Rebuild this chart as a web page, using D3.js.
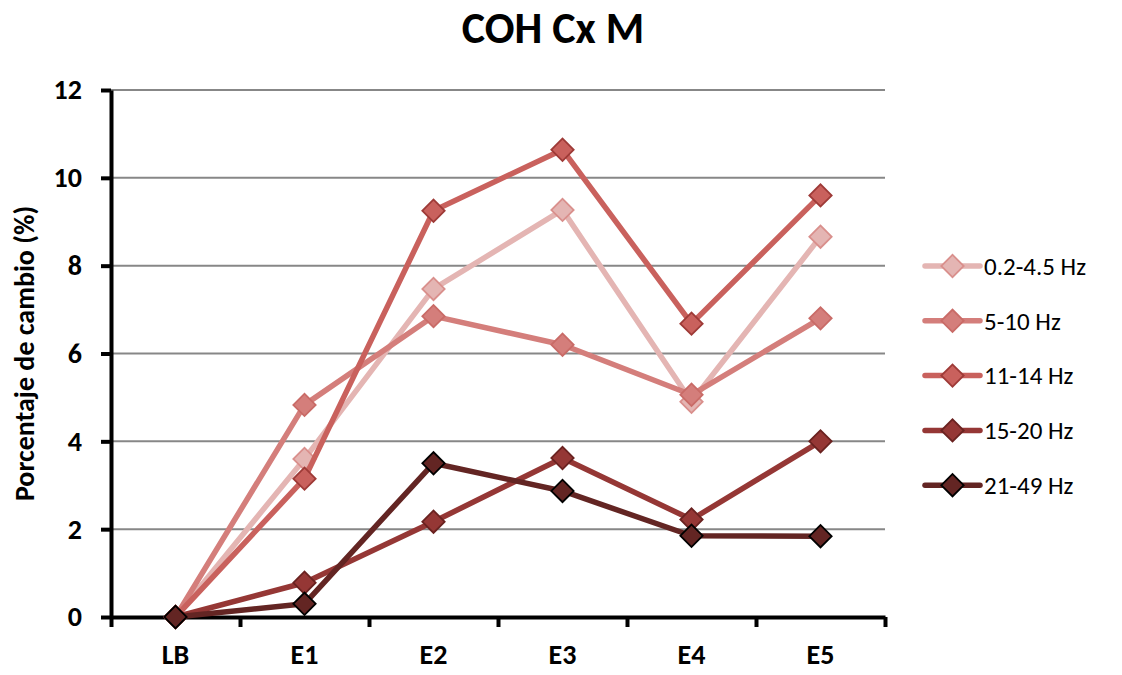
<!DOCTYPE html>
<html>
<head>
<meta charset="utf-8">
<script src="https://cdn.jsdelivr.net/npm/d3@7"></script>
<style>
  body { margin: 0; background: #fff; }
  svg { display: block; font-family: Carlito, Calibri, Lato, sans-serif; }
</style>
</head>
<body>
<div id="chart"></div>
<script>
// Data
const categories = ["LB", "E1", "E2", "E3", "E4", "E5"];
const seriesNames = ["0.2-4.5 Hz", "5-10 Hz", "11-14 Hz", "15-20 Hz", "21-49 Hz"];
const band1 = [0, 3.6, 7.47, 9.27, 4.9, 8.66];
const band2 = [0, 4.83, 6.85, 6.2, 5.06, 6.8];
const band3 = [0, 3.15, 9.25, 10.64, 6.68, 9.6];
const band4 = [0, 0.78, 2.17, 3.62, 2.22, 4.0];
const band5 = [0, 0.3, 3.5, 2.87, 1.85, 1.84];
const yTicks = [0, 2, 4, 6, 8, 10, 12];

const lineColors = ["#e4b5b3", "#d47e7b", "#c9615d", "#953735", "#632523"];
const markerStrokes = ["#d98f8c", "#c96b67", "#9e3a37", "#6a2220", "#000000"];

const series = seriesNames.map((name, i) => ({
    name: name,
    values: [band1, band2, band3, band4, band5][i],
    color: lineColors[i],
    stroke: markerStrokes[i]
}));

const width = 1122, height = 675;
const plot = { left: 111, right: 885, top: 90, bottom: 617 };

const svg = d3.select("#chart").append("svg")
    .attr("width", width)
    .attr("height", height);

const x = d3.scaleBand()
    .domain(categories)
    .range([plot.left, plot.right]);

const xEdge = d3.scaleLinear()
    .domain([0, categories.length])
    .range([plot.left, plot.right]);

const y = d3.scaleLinear()
    .domain([0, 12])
    .range([plot.bottom, plot.top]);

// gridlines
svg.append("g")
    .selectAll("line")
    .data(yTicks.filter(d => d > 0))
    .enter().append("line")
    .attr("x1", plot.left)
    .attr("x2", plot.right)
    .attr("y1", d => y(d))
    .attr("y2", d => y(d))
    .attr("stroke", "#878787")
    .attr("stroke-width", 2);

// y axis
const yAxis = svg.append("g")
    .attr("transform", "translate(" + plot.left + ",0)")
    .call(d3.axisLeft(y).tickValues(yTicks).tickSize(10).tickPadding(19).tickSizeOuter(0));
yAxis.select(".domain").attr("stroke", "#000").attr("stroke-width", 4);
yAxis.selectAll(".tick line").attr("stroke", "#000").attr("stroke-width", 4);
yAxis.selectAll("text")
    .attr("fill", "#000")
    .style("font-size", "28px")
    .style("font-weight", "bold")
    .style("font-family", "Carlito, Calibri, Lato, sans-serif");

// x axis: ticks at band edges, labels at band centres
const xAxisTicks = svg.append("g")
    .attr("transform", "translate(0," + plot.bottom + ")")
    .call(d3.axisBottom(xEdge).ticks(categories.length).tickSize(10).tickFormat("").tickSizeOuter(0));
xAxisTicks.select(".domain").attr("stroke", "#000").attr("stroke-width", 4);
xAxisTicks.selectAll(".tick line").attr("stroke", "#000").attr("stroke-width", 4);

const xAxisLabels = svg.append("g")
    .attr("transform", "translate(0," + plot.bottom + ")")
    .call(d3.axisBottom(x).tickSize(0).tickPadding(27));
xAxisLabels.select(".domain").remove();
xAxisLabels.selectAll("text")
    .attr("fill", "#000")
    .style("font-size", "28px")
    .style("font-weight", "bold")
    .style("font-family", "Carlito, Calibri, Lato, sans-serif");

// lines + markers
const line = d3.line()
    .x((d, i) => x(categories[i]) + x.bandwidth() / 2)
    .y(d => y(d));

const diamond = d3.symbol().type(d3.symbolSquare).size(250);

series.forEach(s => {
    const g = svg.append("g");
    g.append("path")
        .attr("d", line(s.values))
        .attr("fill", "none")
        .attr("stroke", s.color)
        .attr("stroke-width", 5.5)
        .attr("stroke-linejoin", "round");
    g.selectAll("path.marker")
        .data(s.values)
        .enter().append("path")
        .attr("class", "marker")
        .attr("d", diamond)
        .attr("transform", (d, i) => "translate(" + (x(categories[i]) + x.bandwidth() / 2) + "," + y(d) + ") rotate(45)")
        .attr("fill", s.color)
        .attr("stroke", s.stroke)
        .attr("stroke-width", 1.8);
});

// title
svg.append("text")
    .attr("x", 553)
    .attr("y", 43)
    .attr("text-anchor", "middle")
    .style("font-size", "44px")
    .style("font-weight", "bold")
    .text("COH Cx M");

// y axis title
svg.append("text")
    .attr("transform", "translate(34," + ((plot.top + plot.bottom) / 2) + ") rotate(-90)")
    .attr("text-anchor", "middle")
    .style("font-size", "28px")
    .style("font-weight", "bold")
    .text("Porcentaje de cambio (%)");

// legend
const legend = svg.selectAll(".legend")
    .data(series)
    .enter().append("g")
    .attr("class", "legend")
    .attr("transform", (d, i) => "translate(925," + (266 + i * 54.8) + ")");

legend.append("line")
    .attr("x1", 0)
    .attr("x2", 55)
    .attr("stroke", d => d.color)
    .attr("stroke-width", 5.5)
    .attr("stroke-linecap", "round");

legend.append("path")
    .attr("d", diamond)
    .attr("transform", "translate(27.5,0) rotate(45)")
    .attr("fill", d => d.color)
    .attr("stroke", d => d.stroke)
    .attr("stroke-width", 1.8);

legend.append("text")
    .attr("x", 59)
    .attr("dy", "0.35em")
    .style("font-size", "25px")
    .text(d => d.name);
</script>
</body>
</html>
